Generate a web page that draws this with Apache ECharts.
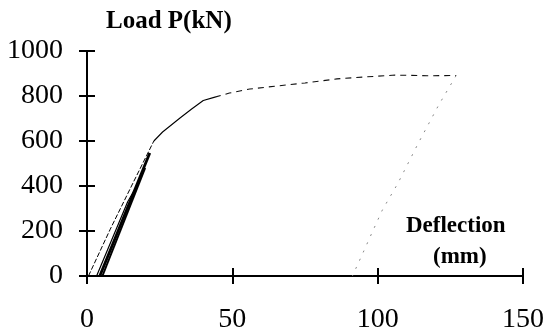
<!DOCTYPE html>
<html>
<head>
<meta charset="utf-8">
<script src="https://cdn.jsdelivr.net/npm/echarts@6/dist/echarts.min.js"></script>
<style>
  html, body { margin: 0; padding: 0; background: #fff; }
  #chart { width: 547px; height: 336px; }
</style>
</head>
<body>
<div id="chart"></div>
<script>
// Axis ranges and tick labels
const xTicks = [0, 50, 100, 150];
const yTicks = [0, 200, 400, 600, 800, 1000];

// Load–deflection record: [deflection mm, load kN]
const envelopeElastic = [[0.5, 0], [8, 208], [16, 418], [23, 600]];
const envelopeYield = [[23, 600], [26, 640], [32, 702], [36, 742], [40, 780], [44, 795]];
const envelopeFlat = [[44, 795], [49, 813], [56, 831], [65, 844], [75, 858], [86, 876], [96, 885], [106, 893], [117, 890], [127, 891]];
const unloading = [[127, 891], [121, 760], [114, 591], [107, 413], [101.6, 293], [98, 191], [94.5, 90], [91.3, 0]];
const cycleA = [[3.3, 0], [14, 330], [18, 420]];
const cycleB = [[4.4, 0], [21.6, 547]];
const cycleC = [[5.3, 0], [20, 480]];

const serif = '"Liberation Serif", "DejaVu Serif", serif';

const chart = echarts.init(document.getElementById('chart'), null, { renderer: 'canvas' });

function valueAxis(min, max, interval, withLabels, inside, margin) {
  return {
    type: 'value', min: min, max: max, interval: interval,
    axisLine: { show: true, onZero: false, lineStyle: { color: '#000', width: 2 } },
    axisTick: { show: true, inside: inside, length: 8, lineStyle: { color: '#000', width: 2 } },
    axisLabel: {
      show: withLabels, color: '#000', fontFamily: serif, fontSize: 28, margin: margin,
      formatter: function (v) { return String(v); }
    },
    splitLine: { show: false }
  };
}

chart.setOption({
  animation: false,
  backgroundColor: '#fff',
  grid: { left: 87, right: 23, top: 51, bottom: 60, containLabel: false },
  xAxis: [
    Object.assign(valueAxis(xTicks[0], xTicks[xTicks.length - 1], 50, true, false, 30), { position: 'bottom' }),
    Object.assign(valueAxis(xTicks[0], xTicks[xTicks.length - 1], 50, false, true, 30), { position: 'bottom' })
  ],
  yAxis: [
    Object.assign(valueAxis(yTicks[0], yTicks[yTicks.length - 1], 200, true, false, 24), { position: 'left' }),
    Object.assign(valueAxis(yTicks[0], yTicks[yTicks.length - 1], 200, false, true, 24), { position: 'left' })
  ],
  series: [
    { type: 'line', data: envelopeElastic, symbol: 'none', lineStyle: { color: '#000', width: 1, type: [5, 2] }, z: 3 },
    { type: 'line', data: envelopeYield, symbol: 'none', lineStyle: { color: '#000', width: 1.1 }, z: 3 },
    { type: 'line', data: envelopeFlat, symbol: 'none', lineStyle: { color: '#111', width: 1.1, type: [6, 5] }, z: 3 },
    { type: 'line', data: unloading, symbol: 'none', lineStyle: { color: '#888', width: 1, type: [2, 7] }, z: 3 },
    { type: 'line', data: cycleA, symbol: 'none', lineStyle: { color: '#000', width: 1.2 }, z: 3 },
    { type: 'line', data: cycleB, symbol: 'none', lineStyle: { color: '#000', width: 2.8 }, z: 3 },
    { type: 'line', data: cycleC, symbol: 'none', lineStyle: { color: '#000', width: 2 }, z: 3 }
  ],
  graphic: [
    { type: 'text', left: 106, top: 9, style: { text: 'Load P(kN)', font: 'bold 25px ' + serif, fill: '#000' } },
    { type: 'text', left: 406, top: 215, style: { text: 'Deflection', font: 'bold 23px ' + serif, fill: '#000' } },
    { type: 'text', left: 433, top: 246, style: { text: '(mm)', font: 'bold 23px ' + serif, fill: '#000' } }
  ]
});
</script>
</body>
</html>
